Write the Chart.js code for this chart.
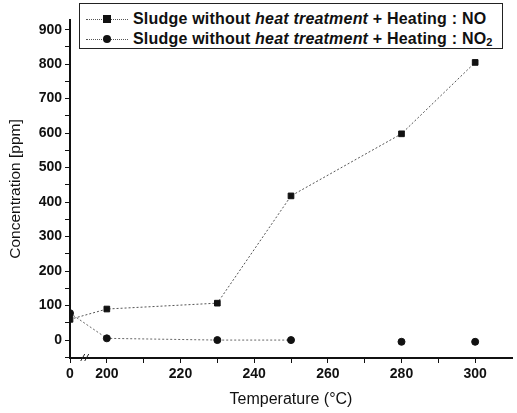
<!DOCTYPE html>
<html>
<head>
<meta charset="utf-8">
<script src="https://cdn.jsdelivr.net/npm/chart.js@4.4.1/dist/chart.umd.min.js"></script>
<style>
    html, body { margin: 0; padding: 0; background: #fff; }
    #wrap { position: relative; width: 517px; height: 413px; }
    #legend {
        position: absolute; left: 79px; top: 3px; width: 424px; height: 46px;
        border: 1px solid #222; background: #fff; box-sizing: border-box;
        font-family: "Liberation Sans", Arial, sans-serif; font-size: 16px; font-weight: bold;
        letter-spacing: 0.2px; color: #111;
    }
    .row { position: absolute; left: 0; height: 20px; line-height: 20px; white-space: nowrap; }
    .sym { position: absolute; left: 6px; top: 10px; width: 42px; border-top: 1px dotted #555; }
    .mk { position: absolute; background: #111; }
    .txt { position: absolute; left: 53px; top: 0; }
    sub { font-size: 11px; vertical-align: -2px; line-height: 0; }
</style>
</head>
<body>
<div id="wrap">
    <canvas id="chart" width="517" height="413"></canvas>
    <div id="legend"></div>
</div>
<script>
// Temperatures (°C); 0 sits left of the axis break
const temps = [0, 200, 230, 250, 280, 300];
const noValues = [60, 90, 107, 418, 598, 805];
const no2Values = [78, 5, 0, 0, -5, -5];

const xTickValues = [0, 200, 220, 240, 260, 280, 300];
const xMinorValues = [210, 230, 250, 270, 290];
const yTickValues = [0, 100, 200, 300, 400, 500, 600, 700, 800, 900];
const yMinorValues = [-50, 50, 150, 250, 350, 450, 550, 650, 750, 850];

const seriesNames = [
    'Sludge without <i>heat treatment</i> + Heating : NO',
    'Sludge without <i>heat treatment</i> + Heating : NO<sub>2</sub>'
];

// broken axis: the 0 point is drawn at the start of the axis
const BREAK_AT = 190;
const axisPos = t => (t === 0 ? BREAK_AT : t);

const toPoints = vals => temps.map((t, i) => ({ x: axisPos(t), y: vals[i] }));

const breakMark = {
    id: 'breakMark',
    afterDraw(chart) {
        const { ctx, scales } = chart;
        const x = scales.x.getPixelForValue(194);
        const y = scales.y.bottom;
        ctx.save();
        ctx.strokeStyle = '#222';
        ctx.lineWidth = 1;
        [-2, 2].forEach(dx => {
            ctx.beginPath();
            ctx.moveTo(x + dx - 2, y + 3);
            ctx.lineTo(x + dx + 2, y - 4);
            ctx.stroke();
        });
        ctx.restore();
    }
};

const fam = '"Liberation Sans", Arial, sans-serif';
const tickFont = { family: fam, size: 14, weight: 'bold' };

new Chart(document.getElementById('chart'), {
    type: 'scatter',
    data: {
        datasets: [
            {
                label: 'NO',
                data: toPoints(noValues),
                showLine: true,
                borderColor: '#555',
                borderWidth: 1,
                borderDash: [2, 2],
                pointStyle: 'rect',
                pointRadius: 4,
                backgroundColor: '#111',
                pointBorderColor: '#111'
            },
            {
                label: 'NO2',
                data: toPoints(no2Values),
                showLine: true,
                borderColor: '#666',
                borderWidth: 1,
                borderDash: [2, 2],
                segment: {
                    borderColor: c => (c.p0DataIndex >= 3 ? 'rgba(0,0,0,0)' : '#666')
                },
                pointStyle: 'circle',
                pointRadius: 3.5,
                backgroundColor: '#111',
                pointBorderColor: '#111'
            }
        ]
    },
    options: {
        responsive: false,
        animation: false,
        layout: { padding: { top: 20, right: 5, left: 0, bottom: 0 } },
        plugins: { legend: { display: false }, tooltip: { enabled: false } },
        scales: {
            x: {
                type: 'linear',
                min: 190,
                max: 310,
                afterBuildTicks: s => {
                    s.ticks = xTickValues.map(v => ({ value: axisPos(v) }))
                        .concat(xMinorValues.map(v => ({ value: v })));
                },
                afterFit: s => { s.height = 55; },
                ticks: {
                    font: tickFont,
                    color: '#111',
                    padding: 3,
                    autoSkip: false,
                    maxRotation: 0,
                    callback: v => {
                        const i = xTickValues.findIndex(t => axisPos(t) === v);
                        return i >= 0 ? String(xTickValues[i]) : '';
                    }
                },
                grid: { drawOnChartArea: false, tickLength: 5, color: '#111' },
                border: { color: '#111', width: 2 },
                title: {
                    display: true,
                    text: 'Temperature (°C)',
                    font: { family: fam, size: 16 },
                    color: '#111',
                    padding: { top: 6 }
                }
            },
            y: {
                min: -52,
                max: 928,
                afterBuildTicks: s => {
                    s.ticks = yTickValues.concat(yMinorValues).map(v => ({ value: v }));
                },
                afterFit: s => { s.width = 70; },
                ticks: {
                    font: tickFont,
                    color: '#111',
                    padding: 3,
                    autoSkip: false,
                    callback: v => (yTickValues.includes(v) ? String(v) : '')
                },
                grid: { drawOnChartArea: false, tickLength: 5, color: '#111' },
                border: { color: '#111', width: 2 },
                title: {
                    display: true,
                    text: 'Concentration [ppm]',
                    font: { family: fam, size: 15.5 },
                    color: '#111',
                    padding: { top: 6, bottom: 4 }
                }
            }
        }
    },
    plugins: [breakMark]
});

// legend (HTML so the italic part stays real text)
const legend = document.getElementById('legend');
seriesNames.forEach((name, i) => {
    const row = document.createElement('div');
    row.className = 'row';
    row.style.top = (5 + i * 20) + 'px';
    const mk = i === 0
        ? '<span class="mk" style="left:23px;top:6px;width:8px;height:8px"></span>'
        : '<span class="mk" style="left:23px;top:6px;width:8px;height:8px;border-radius:50%"></span>';
    row.innerHTML = '<span class="sym"></span>' + mk + '<span class="txt">' + name + '</span>';
    legend.appendChild(row);
});
</script>
</body>
</html>
